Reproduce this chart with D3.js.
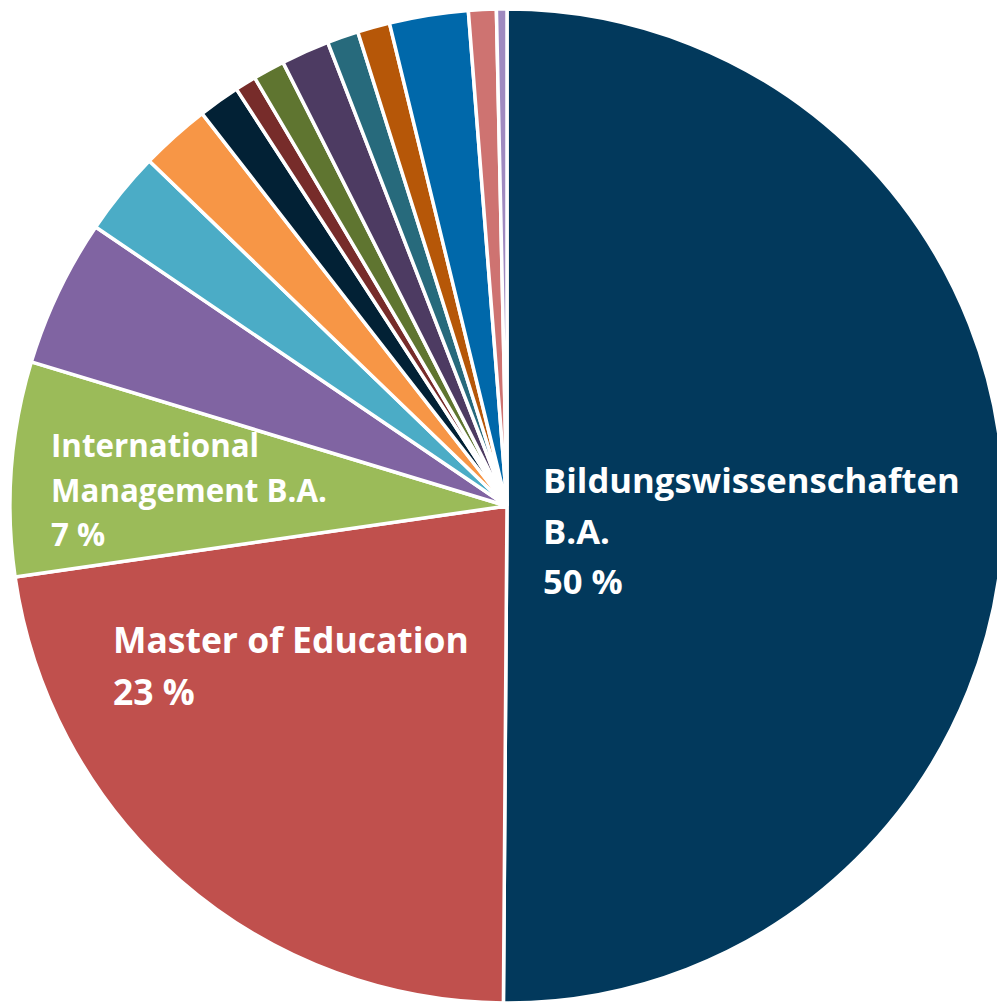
<!DOCTYPE html>
<html>
<head>
<meta charset="utf-8">
<script src="https://cdn.jsdelivr.net/npm/d3@7"></script>
<style>
  body { margin: 0; background: #fff; overflow: hidden; }
</style>
</head>
<body>
<div id="chart"></div>
<script>
// Slice data, clockwise from 12 o'clock (shares in %)
const categories = [
  'Bildungswissenschaften B.A.', 'Master of Education', 'International Management B.A.',
  'Studiengang 4', 'Studiengang 5', 'Studiengang 6', 'Studiengang 7', 'Studiengang 8',
  'Studiengang 9', 'Studiengang 10', 'Studiengang 11', 'Studiengang 12', 'Studiengang 13',
  'Studiengang 14', 'Studiengang 15'
]
const values = [50.1, 22.6, 6.96, 4.8, 2.73, 2.27, 1.35, 0.69, 1.03, 1.57, 1.02, 1.05, 2.56, 0.9, 0.34]
const colors = [
  '#02395c', '#c0504d', '#9bbb59', '#8064a2', '#4bacc6', '#f79646', '#022135', '#772c2a',
  '#5f7530', '#4d3b62', '#276a7c', '#b65708', '#0068aa', '#ce7371', '#9f8ac0'
]
// Data labels shown in the chart
const labelLines = [
  ['Bildungswissenschaften', 'B.A.', '50 %'],
  ['Master of Education', '23 %'],
  ['International', 'Management B.A.', '7 %']
]

const W = 997, H = 1004
const cx = 507, cy = 506, R = 497

const svg = d3.select('#chart').append('svg')
  .attr('width', W).attr('height', H)

const g = svg.append('g').attr('transform', `translate(${cx},${cy})`)

const data = categories.map((c, i) => ({ name: c, value: values[i], color: colors[i] }))

const pie = d3.pie().sort(null).value(d => d.value).startAngle(0).endAngle(2 * Math.PI)
const arc = d3.arc().innerRadius(0).outerRadius(R)

g.selectAll('path.slice')
  .data(pie(data))
  .join('path')
  .attr('class', 'slice')
  .attr('d', arc)
  .attr('fill', d => d.data.color)
  .attr('stroke', '#fff')
  .attr('stroke-width', 3.5)
  .attr('stroke-linejoin', 'miter')

// label layout: offset from pie centre, line height, target width of widest line
const labelLayout = [
  { dx: 36, dy: -13, lh: 50.5, width: 417 },
  { dx: -394, dy: 147, lh: 52, width: 356 },
  { dx: -456, dy: -49, lh: 44.5, width: 276 }
]

labelLines.forEach((lines, i) => {
  const L = labelLayout[i]
  const t = g.append('text')
    .attr('x', L.dx).attr('y', L.dy)
    .attr('fill', '#fff')
    .style('font-family', '"Open Sans", "Noto Sans", sans-serif')
    .style('font-weight', 700)
    .style('font-size', '40px')
  lines.forEach((ln, j) => {
    t.append('tspan').attr('x', L.dx).attr('y', L.dy + j * L.lh).text(ln)
  })
  // fit font size to the widest line
  let maxW = 0
  t.selectAll('tspan').each(function () { maxW = Math.max(maxW, this.getComputedTextLength()) })
  t.style('font-size', (40 * L.width / maxW).toFixed(2) + 'px')
})
</script>
</body>
</html>
